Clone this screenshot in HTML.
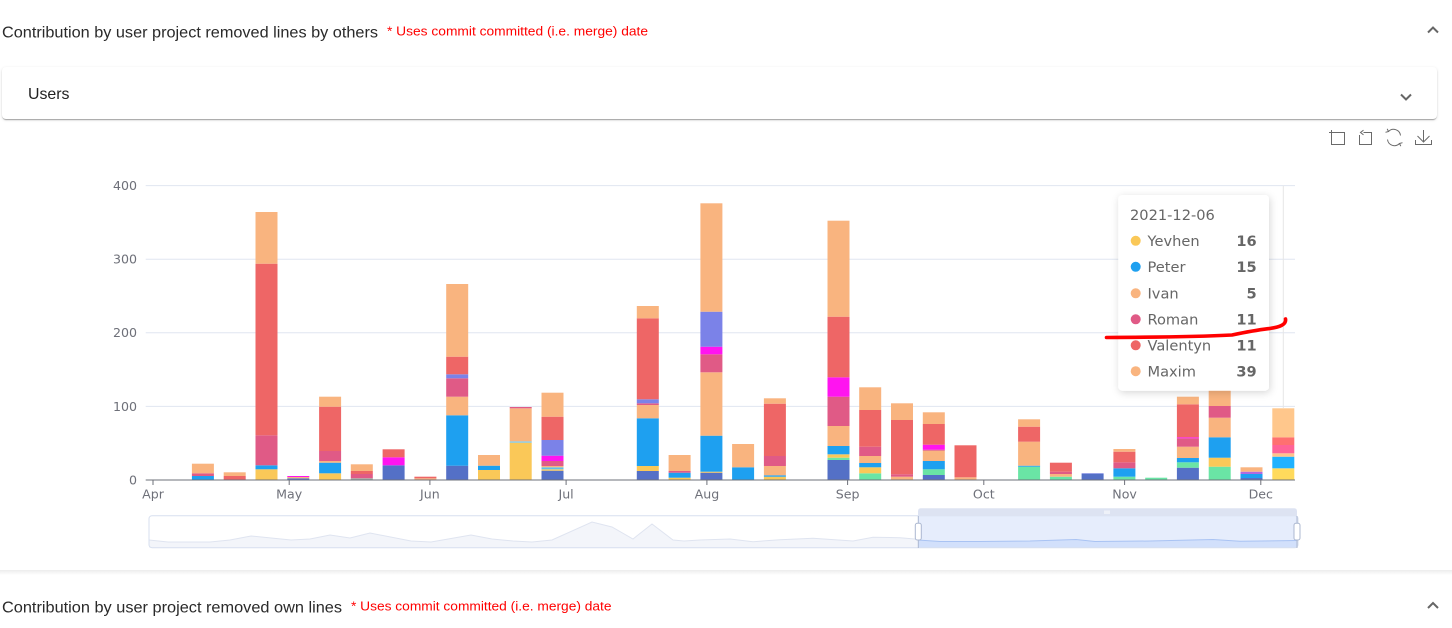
<!DOCTYPE html>
<html><head><meta charset="utf-8"><style>
html,body{margin:0;padding:0;background:#fff;}
body{width:1452px;height:628px;overflow:hidden;position:relative;}
.card{position:absolute;left:2px;top:67px;width:1435px;height:52px;background:#fff;border-radius:4px;box-shadow:0 2px 1px -1px rgba(0,0,0,.2),0 1px 1px 0 rgba(0,0,0,.14),0 1px 3px 0 rgba(0,0,0,.12);}
svg{position:absolute;left:0;top:0;}
.ax{font-family:"DejaVu Sans",sans-serif;font-size:12.6px;fill:#6e7079;}
.tt{font-family:"DejaVu Sans",sans-serif;font-size:14.6px;fill:#666;}
.tv{font-family:"DejaVu Sans",sans-serif;font-size:14.6px;font-weight:bold;fill:#666;}
.hd{font-family:"Liberation Sans",Arial,sans-serif;}
</style></head><body>
<div class="card"></div>
<svg width="1452" height="628" viewBox="0 0 1452 628" xmlns="http://www.w3.org/2000/svg">
<defs>
<filter id="sh" x="-20%" y="-20%" width="140%" height="140%"><feDropShadow dx="1" dy="2" stdDeviation="4" flood-color="#000" flood-opacity="0.16"/></filter>
<linearGradient id="sep" x1="0" y1="0" x2="0" y2="1"><stop offset="0" stop-color="#ececec"/><stop offset="1" stop-color="#ffffff"/></linearGradient>
</defs>

<!-- headers -->
<text class="hd" x="2" y="37.5" font-size="15.5" fill="#2a2a2a" textLength="376" lengthAdjust="spacingAndGlyphs">Contribution by user project removed lines by others</text>
<text class="hd" x="387" y="35.5" font-size="12.5" fill="#ff0000" textLength="261" lengthAdjust="spacingAndGlyphs">* Uses commit committed (i.e. merge) date</text>
<polyline points="1428,32.5 1433,27.5 1438,32.5" fill="none" stroke="#666" stroke-width="2"/>
<text class="hd" x="28" y="99" font-size="16" fill="#222" textLength="41.5" lengthAdjust="spacingAndGlyphs">Users</text>
<polyline points="1401,94.5 1406,99.5 1411,94.5" fill="none" stroke="#666" stroke-width="2"/>

<!-- toolbox -->
<g fill="none" stroke="#6a6a6a" stroke-width="1">
<path d="M1331.5,130 V144.5 H1344.5 V132.5 H1329"/>
<path d="M1359.5,135 V144.5 H1371.5 V132.5 H1363.5 M1363.5,130.2 L1360.5,132.5 L1363.5,134.8"/>
<path d="M1388.5,131.5 A7,7 0 0 1 1400.5,135.5 M1399.5,143.5 A7,7 0 0 1 1387.5,139.5 M1387.2,128.8 L1388.5,131.5 L1385.5,132.3 M1400.8,146.2 L1399.5,143.5 L1402.5,142.7"/>
<path d="M1423.5,130 V142 M1417.5,136 L1423.5,142 L1429.5,136 M1415.5,140 V144.5 H1431.5 V140"/>
</g>

<!-- grid -->
<g stroke="#e0e6f1" stroke-width="1">
<line x1="145.7" y1="185.6" x2="1295" y2="185.6"/>
<line x1="145.7" y1="259.2" x2="1295" y2="259.2"/>
<line x1="145.7" y1="332.8" x2="1295" y2="332.8"/>
<line x1="145.7" y1="406.4" x2="1295" y2="406.4"/>
</g>
<g class="ax" text-anchor="end">
<text x="137" y="190">400</text>
<text x="137" y="263.6">300</text>
<text x="137" y="337.2">200</text>
<text x="137" y="410.8">100</text>
<text x="137" y="484.4">0</text>
</g>

<!-- axis pointer -->
<line x1="1283.3" y1="185.6" x2="1283.3" y2="408" stroke="#e6e6e6" stroke-width="1"/>

<!-- bars -->
<g>
<!-- Apr 12 -->
<rect x="191.9" y="476" width="22" height="4" fill="#1ea0f0"/>
<rect x="191.9" y="473.3" width="22" height="2.7" fill="#e05a86"/>
<rect x="191.9" y="463.7" width="22" height="9.6" fill="#f9b47f"/>
<!-- Apr 19 -->
<rect x="223.7" y="476" width="22" height="4" fill="#ee6666"/>
<rect x="223.7" y="472.3" width="22" height="3.7" fill="#f9b47f"/>
<!-- Apr 26 -->
<rect x="255.5" y="469.3" width="22" height="10.7" fill="#fac858"/>
<rect x="255.5" y="465.3" width="22" height="4" fill="#1ea0f0"/>
<rect x="255.5" y="435.3" width="22" height="30" fill="#e05a86"/>
<rect x="255.5" y="263.7" width="22" height="171.6" fill="#ee6666"/>
<rect x="255.5" y="212" width="22" height="51.7" fill="#f9b47f"/>
<!-- May 3 -->
<rect x="287.3" y="478.3" width="22" height="1.7" fill="#5470c6"/>
<rect x="287.3" y="477" width="22" height="1.3" fill="#f9b47f"/>
<rect x="287.3" y="476" width="22" height="1" fill="#ff14f0"/>
<!-- May 10 -->
<rect x="319.1" y="473.3" width="22" height="6.7" fill="#fac858"/>
<rect x="319.1" y="462.7" width="22" height="10.6" fill="#1ea0f0"/>
<rect x="319.1" y="461" width="22" height="1.7" fill="#f9b47f"/>
<rect x="319.1" y="451" width="22" height="10" fill="#e05a86"/>
<rect x="319.1" y="406.7" width="22" height="44.3" fill="#ee6666"/>
<rect x="319.1" y="396.7" width="22" height="10" fill="#f9b47f"/>
<!-- May 17 -->
<rect x="350.8" y="478.3" width="22" height="1.7" fill="#9fb5a8"/>
<rect x="350.8" y="474" width="22" height="4.3" fill="#e05a86"/>
<rect x="350.8" y="471" width="22" height="3" fill="#ee6666"/>
<rect x="350.8" y="464.3" width="22" height="6.7" fill="#f9b47f"/>
<!-- May 24 -->
<rect x="382.6" y="465.3" width="22" height="14.7" fill="#5470c6"/>
<rect x="382.6" y="457.3" width="22" height="8" fill="#ff14f0"/>
<rect x="382.6" y="449.3" width="22" height="8" fill="#ee6666"/>
<!-- May 31 -->
<rect x="414.4" y="478.3" width="22" height="1.7" fill="#f9b47f"/>
<rect x="414.4" y="476.7" width="22" height="1.6" fill="#ee6666"/>
<!-- Jun 7 -->
<rect x="446.2" y="465.7" width="22" height="14.3" fill="#5470c6"/>
<rect x="446.2" y="415.3" width="22" height="50.4" fill="#1ea0f0"/>
<rect x="446.2" y="396.7" width="22" height="18.6" fill="#f9b47f"/>
<rect x="446.2" y="378.3" width="22" height="18.4" fill="#e05a86"/>
<rect x="446.2" y="374.3" width="22" height="4" fill="#7b82e8"/>
<rect x="446.2" y="356.7" width="22" height="17.6" fill="#ee6666"/>
<rect x="446.2" y="284" width="22" height="72.7" fill="#f9b47f"/>
<!-- Jun 14 -->
<rect x="478" y="470" width="22" height="10" fill="#fac858"/>
<rect x="478" y="465.7" width="22" height="4.3" fill="#1ea0f0"/>
<rect x="478" y="455" width="22" height="10.7" fill="#f9b47f"/>
<!-- Jun 21 -->
<rect x="509.7" y="442.7" width="22" height="37.3" fill="#fac858"/>
<rect x="509.7" y="441.3" width="22" height="1.4" fill="#7fc9e8"/>
<rect x="509.7" y="408.3" width="22" height="33" fill="#f9b47f"/>
<rect x="509.7" y="407" width="22" height="1.3" fill="#e05a86"/>
<!-- Jun 28 -->
<rect x="541.5" y="470.7" width="22" height="9.3" fill="#5470c6"/>
<rect x="541.5" y="469.3" width="22" height="1.4" fill="#fac858"/>
<rect x="541.5" y="467.3" width="22" height="2" fill="#5fc0ea"/>
<rect x="541.5" y="466" width="22" height="1.3" fill="#f9b47f"/>
<rect x="541.5" y="461" width="22" height="5" fill="#e05a86"/>
<rect x="541.5" y="455.7" width="22" height="5.3" fill="#ff14f0"/>
<rect x="541.5" y="440" width="22" height="15.7" fill="#7b82e8"/>
<rect x="541.5" y="416.7" width="22" height="23.3" fill="#ee6666"/>
<rect x="541.5" y="392.7" width="22" height="24" fill="#f9b47f"/>
<!-- Jul 19 -->
<rect x="636.8" y="471" width="22" height="9" fill="#5470c6"/>
<rect x="636.8" y="466" width="22" height="5" fill="#fac858"/>
<rect x="636.8" y="418.3" width="22" height="47.7" fill="#1ea0f0"/>
<rect x="636.8" y="405" width="22" height="13.3" fill="#f9b47f"/>
<rect x="636.8" y="403.3" width="22" height="1.7" fill="#e05a86"/>
<rect x="636.8" y="399.3" width="22" height="4" fill="#7b82e8"/>
<rect x="636.8" y="318.3" width="22" height="81" fill="#ee6666"/>
<rect x="636.8" y="306" width="22" height="12.3" fill="#f9b47f"/>
<!-- Jul 26 -->
<rect x="668.6" y="477.7" width="22" height="2.3" fill="#fac858"/>
<rect x="668.6" y="472.7" width="22" height="5" fill="#1ea0f0"/>
<rect x="668.6" y="471" width="22" height="1.7" fill="#e05a86"/>
<rect x="668.6" y="455" width="22" height="16" fill="#f9b47f"/>
<!-- Aug 2 -->
<rect x="700.4" y="472.7" width="22" height="7.3" fill="#5470c6"/>
<rect x="700.4" y="471.7" width="22" height="1" fill="#fac858"/>
<rect x="700.4" y="435.7" width="22" height="36" fill="#1ea0f0"/>
<rect x="700.4" y="372.3" width="22" height="63.4" fill="#f9b47f"/>
<rect x="700.4" y="354.3" width="22" height="18" fill="#e05a86"/>
<rect x="700.4" y="346.7" width="22" height="7.6" fill="#ff14f0"/>
<rect x="700.4" y="311.7" width="22" height="35" fill="#7b82e8"/>
<rect x="700.4" y="203.3" width="22" height="108.4" fill="#f9b47f"/>
<!-- Aug 9 -->
<rect x="732.1" y="467.3" width="22" height="12.7" fill="#1ea0f0"/>
<rect x="732.1" y="444" width="22" height="23.3" fill="#f9b47f"/>
<!-- Aug 16 -->
<rect x="763.9" y="476.7" width="22" height="3.3" fill="#fac858"/>
<rect x="763.9" y="475.3" width="22" height="1.4" fill="#1ea0f0"/>
<rect x="763.9" y="466" width="22" height="9.3" fill="#f9b47f"/>
<rect x="763.9" y="456" width="22" height="10" fill="#e05a86"/>
<rect x="763.9" y="403.7" width="22" height="52.3" fill="#ee6666"/>
<rect x="763.9" y="398.3" width="22" height="5.4" fill="#f9b47f"/>
<!-- Aug 30 -->
<rect x="827.5" y="460" width="22" height="20" fill="#5470c6"/>
<rect x="827.5" y="457.7" width="22" height="2.3" fill="#6ae5a5"/>
<rect x="827.5" y="454.3" width="22" height="3.4" fill="#fac858"/>
<rect x="827.5" y="446" width="22" height="8.3" fill="#1ea0f0"/>
<rect x="827.5" y="426" width="22" height="20" fill="#f9b47f"/>
<rect x="827.5" y="396.7" width="22" height="29.3" fill="#e05a86"/>
<rect x="827.5" y="377.3" width="22" height="19.4" fill="#ff14f0"/>
<rect x="827.5" y="316.7" width="22" height="60.6" fill="#ee6666"/>
<rect x="827.5" y="220.7" width="22" height="96" fill="#f9b47f"/>
<!-- Sep 6 -->
<rect x="859.2" y="473.3" width="22" height="6.7" fill="#6ae5a5"/>
<rect x="859.2" y="467.3" width="22" height="6" fill="#fac858"/>
<rect x="859.2" y="463" width="22" height="4.3" fill="#1ea0f0"/>
<rect x="859.2" y="456" width="22" height="7" fill="#f9b47f"/>
<rect x="859.2" y="446.7" width="22" height="9.3" fill="#e05a86"/>
<rect x="859.2" y="410" width="22" height="36.7" fill="#ee6666"/>
<rect x="859.2" y="387.3" width="22" height="22.7" fill="#f9b47f"/>
<!-- Sep 13 -->
<rect x="891" y="476.7" width="22" height="3.3" fill="#f9b47f"/>
<rect x="891" y="474.3" width="22" height="2.4" fill="#e05a86"/>
<rect x="891" y="420" width="22" height="54.3" fill="#ee6666"/>
<rect x="891" y="403.3" width="22" height="16.7" fill="#f9b47f"/>
<!-- Sep 20 -->
<rect x="922.8" y="475" width="22" height="5" fill="#5470c6"/>
<rect x="922.8" y="469.3" width="22" height="5.7" fill="#6ae5a5"/>
<rect x="922.8" y="461" width="22" height="8.3" fill="#1ea0f0"/>
<rect x="922.8" y="450.7" width="22" height="10.3" fill="#f9b47f"/>
<rect x="922.8" y="449.7" width="22" height="1" fill="#e05a86"/>
<rect x="922.8" y="444.7" width="22" height="5" fill="#ff14f0"/>
<rect x="922.8" y="424" width="22" height="20.7" fill="#ee6666"/>
<rect x="922.8" y="412.3" width="22" height="11.7" fill="#f9b47f"/>
<!-- Sep 27 -->
<rect x="954.5" y="477.3" width="22" height="2.7" fill="#f9b47f"/>
<rect x="954.5" y="445.3" width="22" height="32" fill="#ee6666"/>
<!-- Oct 11 -->
<rect x="1018.1" y="466.7" width="22" height="13.3" fill="#6ae5a5"/>
<rect x="1018.1" y="465.7" width="22" height="1" fill="#1ea0f0"/>
<rect x="1018.1" y="441.7" width="22" height="24" fill="#f9b47f"/>
<rect x="1018.1" y="426.7" width="22" height="15" fill="#ee6666"/>
<rect x="1018.1" y="419.3" width="22" height="7.4" fill="#f9b47f"/>
<!-- Oct 18 -->
<rect x="1049.9" y="476.7" width="22" height="3.3" fill="#6ae5a5"/>
<rect x="1049.9" y="474" width="22" height="2.7" fill="#f9b47f"/>
<rect x="1049.9" y="471.7" width="22" height="2.3" fill="#e05a86"/>
<rect x="1049.9" y="462.7" width="22" height="9" fill="#ee6666"/>
<!-- Oct 25 -->
<rect x="1081.6" y="474" width="22" height="6" fill="#5470c6"/>
<rect x="1081.6" y="473" width="22" height="1" fill="#9aa4e8"/>
<!-- Nov 1 -->
<rect x="1113.4" y="476.7" width="22" height="3.3" fill="#6ae5a5"/>
<rect x="1113.4" y="468.3" width="22" height="8.4" fill="#1ea0f0"/>
<rect x="1113.4" y="462.3" width="22" height="6" fill="#e05a86"/>
<rect x="1113.4" y="451.7" width="22" height="10.6" fill="#ee6666"/>
<rect x="1113.4" y="449" width="22" height="2.7" fill="#f9b47f"/>
<!-- Nov 8 -->
<rect x="1145.2" y="477.7" width="22" height="2.3" fill="#6ae5a5"/>
<!-- Nov 15 -->
<rect x="1176.9" y="467.7" width="22" height="12.3" fill="#5470c6"/>
<rect x="1176.9" y="462.3" width="22" height="5.4" fill="#6ae5a5"/>
<rect x="1176.9" y="458" width="22" height="4.3" fill="#1ea0f0"/>
<rect x="1176.9" y="446.7" width="22" height="11.3" fill="#f9b47f"/>
<rect x="1176.9" y="438.3" width="22" height="8.4" fill="#e05a86"/>
<rect x="1176.9" y="437.3" width="22" height="1" fill="#ff14f0"/>
<rect x="1176.9" y="404.3" width="22" height="33" fill="#ee6666"/>
<rect x="1176.9" y="396.7" width="22" height="7.6" fill="#f9b47f"/>
<!-- Nov 22 -->
<rect x="1208.7" y="466.7" width="22" height="13.3" fill="#6ae5a5"/>
<rect x="1208.7" y="457.7" width="22" height="9" fill="#fac858"/>
<rect x="1208.7" y="437.3" width="22" height="20.4" fill="#1ea0f0"/>
<rect x="1208.7" y="417.7" width="22" height="19.6" fill="#f9b47f"/>
<rect x="1208.7" y="406" width="22" height="11.7" fill="#e05a86"/>
<rect x="1208.7" y="370" width="22" height="36" fill="#f9b47f"/>
<!-- Nov 29 -->
<rect x="1240.5" y="478" width="22" height="2" fill="#5470c6"/>
<rect x="1240.5" y="474" width="22" height="4" fill="#1ea0f0"/>
<rect x="1240.5" y="471.7" width="22" height="2.3" fill="#b06ae0"/>
<rect x="1240.5" y="467.3" width="22" height="4.4" fill="#f9b47f"/>
<!-- Dec 6 (emphasis) -->
<rect x="1272.3" y="468.3" width="22" height="11.7" fill="#ffda5c"/>
<rect x="1272.3" y="456.7" width="22" height="11.6" fill="#1fb2ff"/>
<rect x="1272.3" y="453.3" width="22" height="3.4" fill="#ffc48a"/>
<rect x="1272.3" y="445" width="22" height="8.3" fill="#ff6397"/>
<rect x="1272.3" y="437.3" width="22" height="7.7" fill="#ff7070"/>
<rect x="1272.3" y="408.3" width="22" height="29" fill="#ffc78c"/>
</g>

<!-- x axis -->
<line x1="145.7" y1="480" x2="1295" y2="480" stroke="#6e7079" stroke-width="1"/>
<g stroke="#6e7079" stroke-width="1">
<line x1="153" y1="480" x2="153" y2="485"/>
<line x1="289.2" y1="480" x2="289.2" y2="485"/>
<line x1="429.9" y1="480" x2="429.9" y2="485"/>
<line x1="566.1" y1="480" x2="566.1" y2="485"/>
<line x1="706.9" y1="480" x2="706.9" y2="485"/>
<line x1="847.6" y1="480" x2="847.6" y2="485"/>
<line x1="983.8" y1="480" x2="983.8" y2="485"/>
<line x1="1124.6" y1="480" x2="1124.6" y2="485"/>
<line x1="1260.8" y1="480" x2="1260.8" y2="485"/>
</g>
<g class="ax" text-anchor="middle">
<text x="153" y="498.5">Apr</text>
<text x="289.2" y="498.5">May</text>
<text x="429.9" y="498.5">Jun</text>
<text x="566.1" y="498.5">Jul</text>
<text x="706.9" y="498.5">Aug</text>
<text x="847.6" y="498.5">Sep</text>
<text x="983.8" y="498.5">Oct</text>
<text x="1124.6" y="498.5">Nov</text>
<text x="1260.8" y="498.5">Dec</text>
</g>

<!-- slider -->
<polygon fill="#f3f5fa" stroke="none" points="149,540 168,542 210,542 230,540 251,536 291,540 310,539 330,535 350,538 370,533 411,541 431,542 471,535 492,539 513,541 532,542 552,540 592,522 612,527 633,539 652,524 673,540 684,541 700,540 730,539 753,541.7 780,539.7 813,538.3 853,541 873,537.3 900,537.7 918,539.3 918,547.7 149,547.7"/>
<polyline fill="none" stroke="#dfe4f0" stroke-width="1" points="149,540 168,542 210,542 230,540 251,536 291,540 310,539 330,535 350,538 370,533 411,541 431,542 471,535 492,539 513,541 532,542 552,540 592,522 612,527 633,539 652,524 673,540 684,541 700,540 730,539 753,541.7 780,539.7 813,538.3 853,541 873,537.3 900,537.7 918,539.3"/>
<rect x="918" y="516" width="379" height="31.7" fill="#e6edfc"/>
<polygon fill="#d2e0fb" points="918,540 940,541.5 980,541.5 1030,541 1076,539.5 1095,541.5 1150,541 1213,539.5 1240,541.3 1297,540.5 1297,547.7 918,547.7"/>
<polyline fill="none" stroke="#a9c3f3" stroke-width="1" points="918,540 940,541.5 980,541.5 1030,541 1076,539.5 1095,541.5 1150,541 1213,539.5 1240,541.3 1297,540.5"/>
<rect x="149" y="515.7" width="1149" height="32" rx="3" fill="none" stroke="#d7dfef" stroke-width="1"/>
<path d="M918,516 V511.3 Q918,508.3 921,508.3 H1294 Q1297,508.3 1297,511.3 V516 Z" fill="#dde3f2"/>
<g fill="#ffffff"><rect x="1104.5" y="510.5" width="1" height="3.5"/><rect x="1106.5" y="510.5" width="1" height="3.5"/><rect x="1108.5" y="510.5" width="1" height="3.5"/></g>
<line x1="918.3" y1="516" x2="918.3" y2="548" stroke="#acb8d1" stroke-width="1"/>
<rect x="915.3" y="523.3" width="6" height="16.7" rx="2" fill="#fff" stroke="#acb8d1" stroke-width="1"/>
<line x1="1297" y1="516" x2="1297" y2="548" stroke="#acb8d1" stroke-width="1"/>
<rect x="1294" y="523.3" width="6" height="16.7" rx="2" fill="#fff" stroke="#acb8d1" stroke-width="1"/>

<!-- tooltip -->
<rect x="1118.3" y="195" width="150.7" height="195.7" rx="4" fill="#fff" filter="url(#sh)"/>
<text class="tt" x="1130" y="220" font-size="15">2021-12-06</text>
<circle cx="1135.7" cy="240.8" r="5" fill="#fac858"/>
<circle cx="1135.7" cy="266.8" r="5" fill="#1ea0f0"/>
<circle cx="1135.7" cy="293.3" r="5" fill="#f9b47f"/>
<circle cx="1135.7" cy="319.3" r="5" fill="#e05a86"/>
<circle cx="1135.7" cy="345.3" r="5" fill="#ee6666"/>
<circle cx="1135.7" cy="371.2" r="5" fill="#f9b47f"/>
<text class="tt" x="1147.5" y="246">Yevhen</text>
<text class="tt" x="1147.5" y="272">Peter</text>
<text class="tt" x="1147.5" y="298.6">Ivan</text>
<text class="tt" x="1147.5" y="324.6">Roman</text>
<text class="tt" x="1147.5" y="350.6">Valentyn</text>
<text class="tt" x="1147.5" y="376.4">Maxim</text>
<g text-anchor="end">
<text class="tv" x="1256.7" y="246">16</text>
<text class="tv" x="1256.7" y="272">15</text>
<text class="tv" x="1256.7" y="298.6">5</text>
<text class="tv" x="1256.7" y="324.6">11</text>
<text class="tv" x="1256.7" y="350.6">11</text>
<text class="tv" x="1256.7" y="376.4">39</text>
</g>

<!-- red hand-drawn stroke -->
<path d="M1106.5,337.5 C1150,337.3 1200,336.6 1232,335 C1244,332.5 1255,330.3 1268,328.7 C1280,327.2 1286.5,324.5 1285.5,319" fill="none" stroke="#ff0000" stroke-width="3.6" stroke-linecap="round" stroke-linejoin="round"/>

<!-- separator -->
<rect x="0" y="570" width="1452" height="5" fill="url(#sep)"/>

<!-- second header -->
<text class="hd" x="2" y="612.5" font-size="15.5" fill="#2a2a2a" textLength="340" lengthAdjust="spacingAndGlyphs">Contribution by user project removed own lines</text>
<text class="hd" x="351" y="610.5" font-size="12.5" fill="#ff0000" textLength="260.5" lengthAdjust="spacingAndGlyphs">* Uses commit committed (i.e. merge) date</text>
<polyline points="1428,608 1433,603 1438,608" fill="none" stroke="#666" stroke-width="2"/>
</svg>
</body></html>
